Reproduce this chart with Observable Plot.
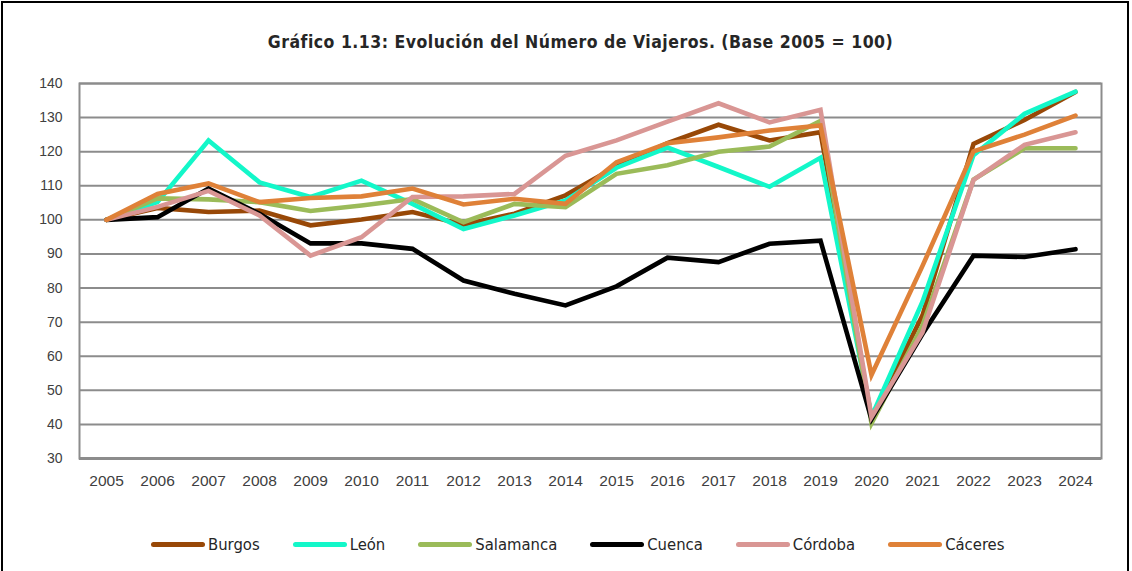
<!DOCTYPE html>
<html>
<head>
<meta charset="utf-8">
<script src="https://cdn.jsdelivr.net/npm/d3@7"></script>
<script src="https://cdn.jsdelivr.net/npm/@observablehq/plot@0.6"></script>
<style>
  html, body { margin: 0; padding: 0; background: #fff; width: 1132px; height: 571px; overflow: hidden; }
  #frame { position: absolute; left: 1px; top: 1px; width: 1128px; height: 620px; border: 2px solid #000; box-sizing: border-box; }
  #title { position: absolute; top: 32px; left: 0; width: 1161px; text-align: center; font-family: "DejaVu Sans Condensed", "DejaVu Sans", sans-serif; font-weight: bold; font-size: 17.5px; letter-spacing: 0.5px; color: #262626; white-space: nowrap; }
  #chart { position: absolute; left: 0; top: 0; }
  #legend { position: absolute; top: 535px; left: 151px; display: flex; align-items: center; font-family: "DejaVu Sans Condensed", "DejaVu Sans", sans-serif; font-size: 16.5px; color: #262626; white-space: nowrap; }
  .item { display: flex; align-items: center; margin-right: 33px; }
  .sw { width: 54px; height: 5px; border-radius: 2.5px; margin-right: 3px; }
</style>
</head>
<body>
<div id="frame"></div>
<div id="title">Gráfico 1.13: Evolución del Número de Viajeros. (Base 2005 = 100)</div>
<div id="chart"></div>
<div id="legend"></div>
<script>
const years = ["2005","2006","2007","2008","2009","2010","2011","2012","2013","2014","2015","2016","2017","2018","2019","2020","2021","2022","2023","2024"];
const seriesNames = ["Burgos","León","Salamanca","Cuenca","Córdoba","Cáceres"];
const seriesColors = ["#984807","#13F7C9","#9BBB59","#000000","#D99694","#DF8138"];
const burgos    = [100, 103.5, 102.3, 102.7, 98.4, 100.1, 102.3, 98.6, 101.8, 107.2, 115.7, 122.5, 127.9, 123.3, 125.7, 41.8, 72, 122.3, 129.3, 137.5];
const leon      = [100, 105.2, 123.3, 111, 106.7, 111.5, 104.7, 97.3, 101.3, 105.7, 115.3, 121.2, 115.5, 109.7, 118.2, 42.3, 76, 119, 131.1, 137.6];
const salamanca = [100, 106.3, 106, 105.2, 102.6, 104.2, 106.1, 99.3, 104.7, 103.7, 113.5, 116, 120, 121.5, 129, 40.3, 69, 111.8, 121, 121];
const cuenca    = [100, 100.8, 109.2, 101.8, 93.1, 93.1, 91.5, 82.2, 78.3, 74.9, 80.5, 88.9, 87.6, 93, 93.9, 41.5, 66.5, 89.5, 89.1, 91.4];
const cordoba   = [100, 103.8, 108.5, 101.3, 89.5, 94.9, 106.7, 106.9, 107.6, 118.8, 123.3, 128.8, 134.2, 128.6, 132.3, 42.2, 67, 111.7, 122, 125.7];
const caceres   = [100, 107.6, 110.7, 105.2, 106.4, 106.9, 109.2, 104.5, 106.2, 104.7, 116.9, 122.5, 124.2, 126.2, 127.7, 54.5, 86.5, 120.1, 125, 130.6];
const yTicks = [30,40,50,60,70,80,90,100,110,120,130,140];

const allSeries = [burgos, leon, salamanca, cuenca, cordoba, caceres];
const data = [];
allSeries.forEach((vals, i) => vals.forEach((v, j) => data.push({year: years[j], value: v, name: seriesNames[i]})));

const grid = "#8c8c8c";
const plot = Plot.plot({
  width: 1132,
  height: 500,
  marginLeft: 79,
  marginRight: 31,
  marginTop: 83,
  marginBottom: 42,
  style: {fontFamily: "'Liberation Sans', Arial, sans-serif", fontSize: "14px", color: "#404040", background: "transparent"},
  x: {type: "point", domain: years, padding: 0.5, label: null},
  y: {domain: [30, 140], label: null},
  color: {domain: seriesNames, range: seriesColors},
  marks: [
    Plot.ruleY(yTicks.filter(d => d > 30), {stroke: grid, strokeWidth: 2}),
    Plot.frame({stroke: grid, strokeWidth: 2}),
    Plot.axisX({tickSize: 0, tickPadding: 16, fill: "#404040", fontSize: 15.5}),
    Plot.axisY({ticks: yTicks, tickSize: 0, tickPadding: 17, fill: "#404040", fontSize: 14}),
    Plot.ruleY([30], {stroke: grid, strokeWidth: 3}),
    Plot.line(data, {x: "year", y: "value", z: "name", stroke: "name", strokeWidth: 4.6, strokeLinejoin: "miter", strokeMiterlimit: 4})
  ]
});
document.getElementById("chart").appendChild(plot);

const legend = document.getElementById("legend");
seriesNames.forEach((n, i) => {
  const it = document.createElement("div");
  it.className = "item";
  const sw = document.createElement("div");
  sw.className = "sw";
  sw.style.background = seriesColors[i];
  const t = document.createElement("span");
  t.textContent = n;
  it.appendChild(sw); it.appendChild(t);
  legend.appendChild(it);
});
</script>
</body>
</html>
